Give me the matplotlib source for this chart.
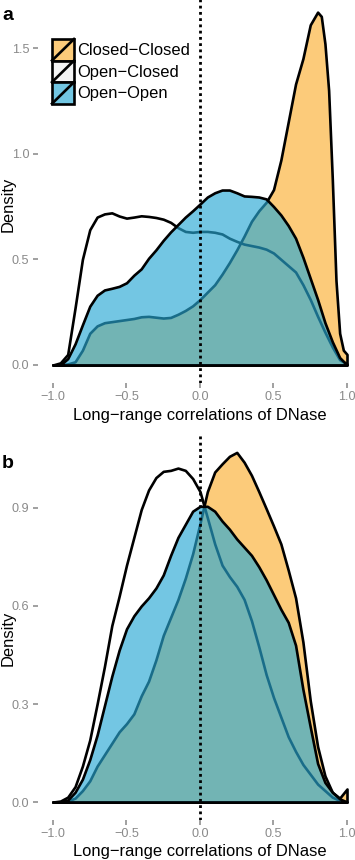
import matplotlib
matplotlib.use("Agg")
import matplotlib.pyplot as plt
from matplotlib.patches import Rectangle, Patch
from matplotlib.lines import Line2D
from matplotlib.legend_handler import HandlerBase
from matplotlib.colors import to_rgba

plt.rcParams['font.family'] = ['Liberation Sans', 'DejaVu Sans']

# ---------------- data ----------------
SERIES = ["Closed\u2212Closed", "Open\u2212Closed", "Open\u2212Open"]

X_GRID = [-1.0, -0.95, -0.9, -0.85, -0.8, -0.75, -0.7, -0.65, -0.6, -0.55,
          -0.5, -0.45, -0.4, -0.35, -0.3, -0.25, -0.2, -0.15, -0.1, -0.05,
          0.0, 0.05, 0.1, 0.15, 0.2, 0.25, 0.3, 0.35, 0.4, 0.45,
          0.5, 0.55, 0.6, 0.65, 0.7, 0.75, 0.8, 0.85, 0.9, 0.95, 1.0]

# panel a
A_CC_X = [-1.0, -0.95, -0.9, -0.85, -0.8, -0.75, -0.7, -0.65, -0.6, -0.55,
          -0.5, -0.45, -0.4, -0.35, -0.3, -0.25, -0.2, -0.15, -0.1, -0.05,
          0.0, 0.05, 0.1, 0.15, 0.2, 0.25, 0.3, 0.35, 0.4, 0.45,
          0.5, 0.55, 0.6, 0.65, 0.7, 0.75, 0.8, 0.825, 0.85, 0.875,
          0.9, 0.925, 0.95, 0.975, 1.0]
A_CLOSED_CLOSED = [0.0, 0.0, 0.005, 0.015, 0.07, 0.15, 0.185, 0.2, 0.205, 0.21,
                   0.215, 0.22, 0.228, 0.23, 0.226, 0.222, 0.225, 0.24, 0.258, 0.28,
                   0.31, 0.345, 0.38, 0.43, 0.485, 0.545, 0.61, 0.68, 0.73, 0.77,
                   0.83, 0.97, 1.15, 1.33, 1.45, 1.61, 1.67, 1.65, 1.52, 1.30,
                   0.88, 0.40, 0.15, 0.07, 0.05]
A_OPEN_CLOSED = [0.0, 0.01, 0.05, 0.27, 0.50, 0.64, 0.70, 0.715, 0.72, 0.705,
                 0.695, 0.70, 0.706, 0.703, 0.698, 0.69, 0.675, 0.65, 0.632, 0.628,
                 0.632, 0.632, 0.628, 0.62, 0.60, 0.585, 0.572, 0.565, 0.558, 0.548,
                 0.53, 0.50, 0.47, 0.44, 0.38, 0.31, 0.23, 0.155, 0.085, 0.025, 0.005]
A_OPEN_OPEN = [0.0, 0.0, 0.03, 0.10, 0.19, 0.278, 0.33, 0.355, 0.363, 0.372,
               0.389, 0.425, 0.455, 0.505, 0.545, 0.59, 0.63, 0.665, 0.70, 0.73,
               0.762, 0.795, 0.815, 0.828, 0.828, 0.815, 0.80, 0.798, 0.795, 0.786,
               0.75, 0.71, 0.66, 0.60, 0.51, 0.41, 0.31, 0.20, 0.11, 0.035, 0.0]

# panel b
B_CLOSED_CLOSED = [0.0, 0.0, 0.003, 0.012, 0.035, 0.065, 0.11, 0.145, 0.18, 0.215,
                   0.24, 0.27, 0.325, 0.37, 0.435, 0.51, 0.565, 0.62, 0.685, 0.76,
                   0.853, 0.95, 1.01, 1.035, 1.058, 1.07, 1.04, 1.0, 0.95, 0.898,
                   0.845, 0.79, 0.71, 0.625, 0.49, 0.31, 0.17, 0.08, 0.03, 0.012, 0.04]
B_OPEN_CLOSED = [0.0, 0.003, 0.015, 0.047, 0.11, 0.19, 0.30, 0.415, 0.54, 0.63,
                 0.725, 0.81, 0.895, 0.955, 0.993, 1.012, 1.015, 1.022, 1.015, 0.99,
                 0.95, 0.87, 0.79, 0.725, 0.69, 0.66, 0.62, 0.555, 0.475, 0.39,
                 0.32, 0.26, 0.20, 0.155, 0.115, 0.085, 0.055, 0.035, 0.015, 0.005, 0.0]
B_OPEN_OPEN = [0.0, 0.0, 0.006, 0.03, 0.07, 0.13, 0.205, 0.295, 0.385, 0.465,
               0.53, 0.57, 0.60, 0.625, 0.655, 0.695, 0.755, 0.81, 0.85, 0.89,
               0.905, 0.905, 0.89, 0.86, 0.835, 0.805, 0.78, 0.755, 0.72, 0.68,
               0.635, 0.59, 0.55, 0.48, 0.345, 0.23, 0.118, 0.06, 0.03, 0.01, 0.0]

X_TICKS = [-1.0, -0.5, 0.0, 0.5, 1.0]
X_TICKLABELS = ["\u22121.0", "\u22120.5", "0.0", "0.5", "1.0"]
A_YTICKS = [0.0, 0.5, 1.0, 1.5]
A_YTICKLABELS = ["0.0", "0.5", "1.0", "1.5"]
B_YTICKS = [0.0, 0.3, 0.6, 0.9]
B_YTICKLABELS = ["0.0", "0.3", "0.6", "0.9"]
XLABEL = "Long\u2212range correlations of DNase"
YLABEL = "Density"

# ---------------- style ----------------
ORANGE = "#FCCB7A"
BLUE = (40 / 255, 168 / 255, 212 / 255)
BLUE_ALPHA = 0.65
BLUE_KEY = "#72C6E2"
WHITE_KEY = "#F4F4F4"
LW = 1.9
TICK_COL = "#A0A0A0"
TICKLABEL_COL = "#8A8A8A"

W, H = 355, 860
fig = plt.figure(figsize=(W / 100, H / 100), dpi=100)


def px_axes(left, top, right, bottom):
    return fig.add_axes([left / W, 1 - bottom / H, (right - left) / W, (bottom - top) / H])


ax_a = px_axes(38.3, -5.5, 361.7, 382.6)
ax_b = px_axes(38.3, 433.2, 361.7, 819.6)


def draw_panel(ax, cc_x, cc, oc, oo, ylim, yticks, yticklabels):
    ax.fill_between(cc_x, 0, cc, facecolor=to_rgba(ORANGE, 1.0),
                    edgecolor="black", linewidth=LW, zorder=1)
    ax.fill_between(X_GRID, 0, oc, facecolor=(1, 1, 1, 0.0),
                    edgecolor="black", linewidth=LW, zorder=2)
    ax.fill_between(X_GRID, 0, oo, facecolor=to_rgba(BLUE, BLUE_ALPHA),
                    edgecolor="black", linewidth=LW, zorder=3)
    ax.axvline(0, color="black", linewidth=2.0, linestyle=(0, (1, 1.25)), zorder=5)
    ax.set_xlim(-1.1, 1.1)
    ax.set_ylim(*ylim)
    ax.set_xticks(X_TICKS)
    ax.set_xticklabels(X_TICKLABELS)
    ax.set_yticks(yticks)
    ax.set_yticklabels(yticklabels)
    for s in ax.spines.values():
        s.set_visible(False)
    ax.tick_params(axis="both", length=3.6, width=1.4, color=TICK_COL,
                   labelcolor=TICKLABEL_COL, labelsize=9.1, pad=2.8)
    ax.patch.set_alpha(0)


draw_panel(ax_a, A_CC_X, A_CLOSED_CLOSED, A_OPEN_CLOSED, A_OPEN_OPEN,
           (-0.0835, 1.7535), A_YTICKS, A_YTICKLABELS)
draw_panel(ax_b, X_GRID, B_CLOSED_CLOSED, B_OPEN_CLOSED, B_OPEN_OPEN,
           (-0.05375, 1.12875), B_YTICKS, B_YTICKLABELS)


# legend with diagonal keys
class DiagHandler(HandlerBase):
    def create_artists(self, legend, orig_handle, xdescent, ydescent,
                       width, height, fontsize, trans):
        r = Rectangle((-xdescent, -ydescent), width, height,
                      facecolor=orig_handle.get_facecolor(), edgecolor="black",
                      linewidth=LW, transform=trans)
        ln = Line2D([-xdescent, -xdescent + width], [-ydescent, -ydescent + height],
                    color="black", linewidth=LW, transform=trans)
        return [r, ln]


handles = [Patch(facecolor=ORANGE), Patch(facecolor=WHITE_KEY), Patch(facecolor=BLUE_KEY)]
fs_leg = 11.9
leg = ax_a.legend(handles, SERIES, loc="upper left",
                  bbox_to_anchor=(52 / W, 1 - 39 / H), bbox_transform=fig.transFigure,
                  handler_map={Patch: DiagHandler()}, frameon=False,
                  fontsize=fs_leg, handlelength=22 / 16.5, handleheight=1.63,
                  labelspacing=0.0, handletextpad=0.2, borderpad=0.0, borderaxespad=0.0)

# axis titles
fig.text(200 / W, 1 - 420 / H, XLABEL, ha="center", va="baseline", fontsize=11.9)
fig.text(200 / W, 1 - 856 / H, XLABEL, ha="center", va="baseline", fontsize=11.9)
fig.text(8 / W, 1 - 204 / H, YLABEL, ha="center", va="center", rotation=90, fontsize=11.9)
fig.text(8 / W, 1 - 638 / H, YLABEL, ha="center", va="center", rotation=90, fontsize=11.9)

# panel letters
fig.text(2 / W, 1 - 20 / H, "a", fontweight="bold", fontsize=14, va="baseline")
fig.text(2 / W, 1 - 468 / H, "b", fontweight="bold", fontsize=14, va="baseline")

fig.savefig("out.png", dpi=100)
